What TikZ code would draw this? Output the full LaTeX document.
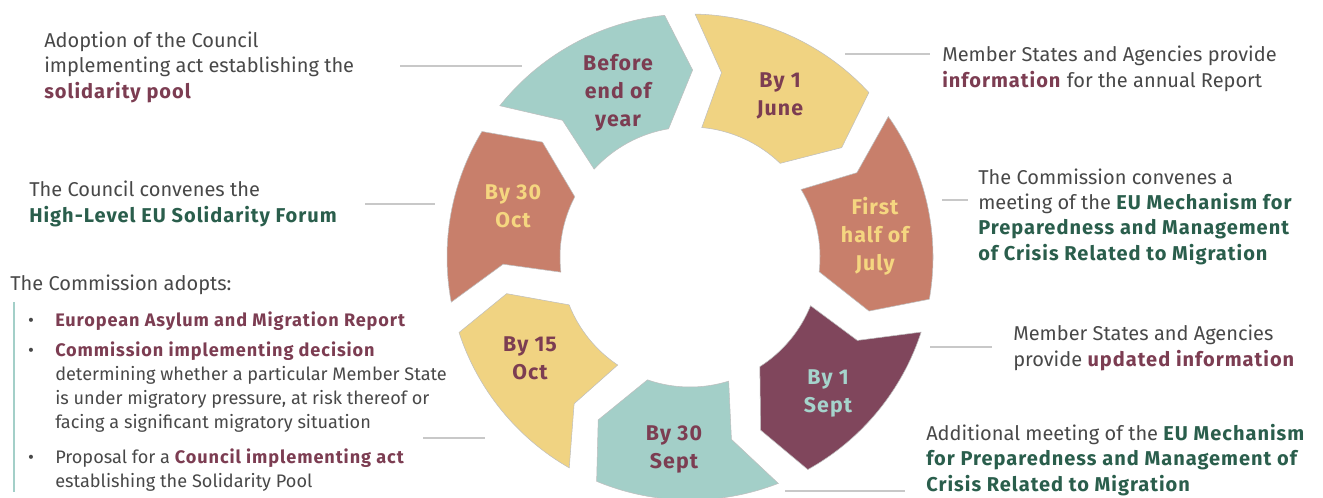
\documentclass[tikz,border=0pt]{standalone}
\usepackage{fontspec}
\setmainfont{Fira Sans}[BoldFeatures={LetterSpace=5}]
\usetikzlibrary{positioning}
\definecolor{segTeal}{RGB}{163,207,200}
\definecolor{segSand}{RGB}{240,211,130}
\definecolor{segClay}{RGB}{200,127,107}
\definecolor{segWine}{RGB}{128,70,92}
\definecolor{txtWine}{RGB}{124,61,82}
\definecolor{txtGreen}{RGB}{42,94,76}
\definecolor{txtGray}{RGB}{72,72,72}
\definecolor{txtSand}{RGB}{245,214,128}
\definecolor{txtTeal}{RGB}{165,212,204}
\definecolor{lineGray}{RGB}{200,200,200}
\newcommand{\hlwine}[1]{\textcolor{txtWine}{\textbf{#1}}}
\newcommand{\hlgreen}[1]{\textcolor{txtGreen}{\textbf{#1}}}

\begin{document}
\begin{tikzpicture}[x=0.75pt, y=-0.75pt,
    seg/.style={draw=black!25, line width=0.4pt},
    lead/.style={draw=lineGray, line width=2pt},
    body/.style={font=\fontsize{15}{19}\selectfont, text=txtGray, inner sep=0pt, align=left, anchor=base west},
    listtext/.style={body, font=\fontsize{13.6}{18}\selectfont},
    segtext/.style={font=\fontsize{16}{21}\selectfont\bfseries, align=center}]

    \useasboundingbox (0,0) rectangle (1323,497);

    % Ring of arrow segments (clockwise)
    \begin{scope}[shift={(690,257)}]
    \foreach \t/\h/\fillc in {
        -141.5/-96/segTeal,
        -88.8/-42.6/segSand,
        -35.3/10/segClay,
        18/61/segWine,
        68.7/112.6/segTeal,
        119.8/161.9/segSand,
        169.3/211.1/segClay} {
        \filldraw[seg, fill=\fillc] (\t:243) arc[start angle=\t, end angle=\h, radius=243]
            -- (\h+6.8:187) -- (\h-3.5:130)
            arc[start angle=\h-3.5, end angle=\t+4, radius=130]
            -- (\t+8.5:187) -- cycle;
    }
    \end{scope}

    % Segment labels
    \foreach \nm/\lx/\ly/\textc/\lbl in {
        year/618/93/txtWine/{Before\\end of\\year},
        june/780/96/txtWine/{By 1\\June},
        july/875/236/txtSand/{First\\half of\\July},
        sept/828/393/txtTeal/{By 1\\Sept},
        endsept/674/449/txtWine/{By 30\\Sept},
        midoct/530/358/txtWine/{By 15\\Oct},
        endoct/513/206/txtSand/{By 30\\Oct}} {
        \node[segtext, text=\textc] (\nm) at (\lx,\ly) {\lbl};
    }

    % Leader lines
    \foreach \xa/\y/\xb in {400/66/522, 845/54/930, 365/204/435, 942/200/968,
                            930/347/992, 423/438/485, 785/491/905} {
        \draw[lead] (\xa,\y) -- (\xb,\y);
    }

    % Left texts (placed at the baseline of their last line)
    \node[body] (pool) at (44,98) {Adoption of the Council\\implementing act establishing the\\\hlwine{solidarity pool}};
    \node[body] (forum) at (29,222) {The Council convenes the\\\hlgreen{High-Level EU Solidarity Forum}};
    \node[body] (adopts) at (10,290) {The Commission adopts:};
    \draw[segTeal, line width=2pt] (14,302) -- (14,492);
    \node[listtext] (report) at (55,326) {\llap{\textbullet\hspace{16pt}}\hlwine{European Asylum and Migration Report}};
    \node[listtext] (decision) at (55,428) {\llap{\textbullet\hspace{16pt}}\hlwine{Commission implementing decision}\\determining whether a particular Member State\\is under migratory pressure, at risk thereof or\\facing a significant migratory situation};
    \node[listtext] (proposal) at (55,487) {\llap{\textbullet\hspace{16pt}}Proposal for a \hlwine{Council implementing act}\\establishing the Solidarity Pool};

    % Right texts
    \node[body] (info) at (942,87) {Member States and Agencies provide\\\hlwine{information} for the annual Report};
    \node[body] (mech) at (978,260) {The Commission convenes a\\meeting of the \hlgreen{EU Mechanism for}\\\hlgreen{Preparedness and Management}\\\hlgreen{of Crisis Related to Migration}};
    \node[body] (update) at (1013,366) {Member States and Agencies\\provide \hlwine{updated information}};
    \node[body] (extra) at (926,491) {Additional meeting of the \hlgreen{EU Mechanism}\\\hlgreen{for Preparedness and Management of}\\\hlgreen{Crisis Related to Migration}};

\end{tikzpicture}
\end{document}
